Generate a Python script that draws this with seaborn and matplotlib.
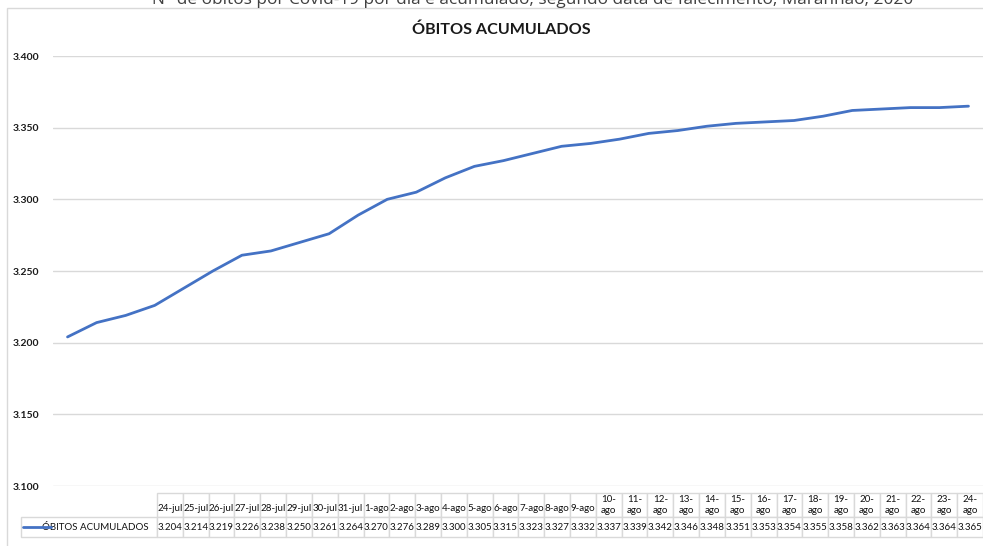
import matplotlib
matplotlib.use("Agg")
import matplotlib.pyplot as plt
import matplotlib.ticker as mticker
from matplotlib.lines import Line2D
from matplotlib.patches import Rectangle
import seaborn as sns
import pandas as pd

# dados: óbitos acumulados por data de falecimento
datas = [
    "24-jul", "25-jul", "26-jul", "27-jul", "28-jul", "29-jul", "30-jul", "31-jul",
    "1-ago", "2-ago", "3-ago", "4-ago", "5-ago", "6-ago", "7-ago", "8-ago", "9-ago",
    "10-ago", "11-ago", "12-ago", "13-ago", "14-ago", "15-ago", "16-ago", "17-ago",
    "18-ago", "19-ago", "20-ago", "21-ago", "22-ago", "23-ago", "24-ago",
]
obitos = [
    3204, 3214, 3219, 3226, 3238, 3250, 3261, 3264, 3270, 3276, 3289, 3300,
    3305, 3315, 3323, 3327, 3332, 3337, 3339, 3342, 3346, 3348, 3351, 3353,
    3354, 3355, 3358, 3362, 3363, 3364, 3364, 3365,
]
serie = "ÓBITOS ACUMULADOS"
titulo_topo = ("N° de óbitos por Covid-19 por dia e acumulado, segundo data de "
               "falecimento, Maranhão, 2020")

df = pd.DataFrame({"pos": range(len(datas)), "data": datas, "obitos": obitos})

sns.set_style("white")
plt.rcParams["font.family"] = ["Lato", "DejaVu Sans"]

W, H = 983, 546
fig = plt.figure(figsize=(W / 100, H / 100), dpi=100)


def fx(px):
    return px / W


def fy(py):
    return 1 - py / H


# moldura do gráfico (cortada à direita e embaixo)
fig.patches.append(Rectangle((fx(7), fy(560)), fx(1000), fy(8) - fy(560),
                             transform=fig.transFigure, fill=False,
                             edgecolor="#d9d9d9", linewidth=1))

fig.text(fx(533), fy(4), titulo_topo, ha="center", va="baseline",
         fontsize=12.4, color="#404040", family=["Open Sans", "DejaVu Sans"])

ax = fig.add_axes([fx(53), fy(486), fx(930), fy(56) - fy(486)])
sns.lineplot(data=df, x="pos", y="obitos", ax=ax, color="#4472c4",
             linewidth=2.0)
ax.set_xlim(-0.5, len(datas) - 0.5)
ax.set_ylim(3100, 3400)
ax.set_yticks(range(3100, 3401, 50))
ax.yaxis.set_major_formatter(
    mticker.FuncFormatter(lambda v, p: f"{int(v):,}".replace(",", ".")))
ax.set_xticks([])
ax.set_xlabel("")
ax.set_ylabel("")
ax.grid(axis="y", color="#d9d9d9", linewidth=1)
ax.tick_params(axis="y", length=0, pad=10, labelsize=7.5, labelcolor="#1a1a1a")
for lab in ax.get_yticklabels():
    lab.set_fontweight("bold")
for s in ax.spines.values():
    s.set_visible(False)

fig.text(fx(501), fy(30), serie, ha="center", va="center", fontsize=11.6,
         fontweight="bold", color="#1a1a1a")

# tabela de dados abaixo do gráfico
tab_ax = fig.add_axes([fx(21), fy(537), fx(962), fy(493) - fy(537)])
tab_ax.axis("off")
cabecalho = [""] + ["\n" + d if i < 17 else d.replace("-", "-\n")
                    for i, d in enumerate(datas)]
valores = [serie] + [f"{v:,}".replace(",", ".") for v in obitos]
larg_rot = 136 / 962
larg_col = (1 - larg_rot) / len(datas)
tabela = tab_ax.table(cellText=[valores], colLabels=cabecalho,
                      colWidths=[larg_rot] + [larg_col] * len(datas),
                      cellLoc="center", bbox=[0, 0, 1, 1])
tabela.auto_set_font_size(False)
tabela.set_fontsize(7)
for (r, c), cell in tabela.get_celld().items():
    cell.set_edgecolor("#d9d9d9")
    cell.set_linewidth(1)
    cell.get_text().set_color("#111111")
    if r == 0:
        cell.set_height(24)
    else:
        cell.set_height(20)
    if r == 0 and c == 0:
        cell.visible_edges = ""
    if r == 1 and c == 0:
        cell.get_text().set_ha("right")
        cell.PAD = 0.06
        cell._loc = "right"
    if r == 0 and 0 < c <= 17:
        cell.get_text().set_linespacing(0.75)
    if r == 0 and c > 17:
        cell.get_text().set_linespacing(1.3)

fig.lines.append(Line2D([fx(23), fx(51)], [fy(527), fy(527)],
                        transform=fig.transFigure, color="#4472c4",
                        linewidth=2.0))

fig.savefig("out.png", dpi=100)
